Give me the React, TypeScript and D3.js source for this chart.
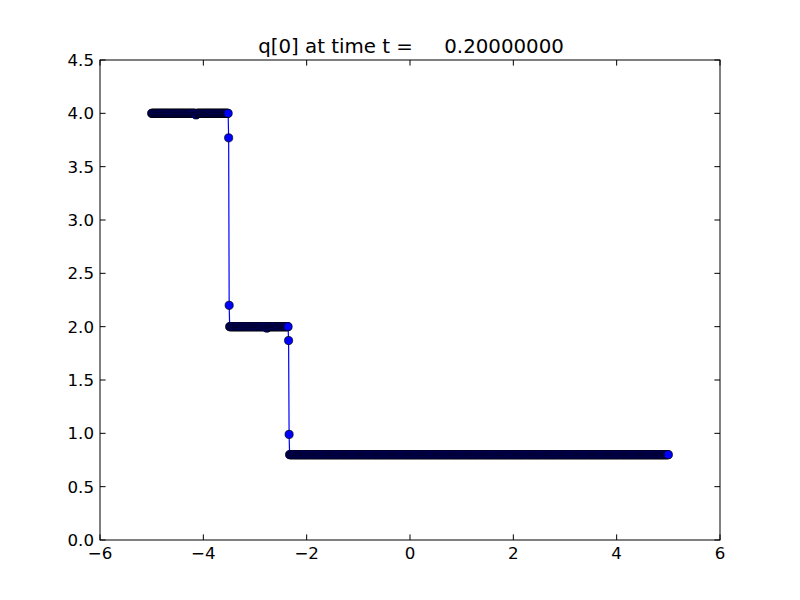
import React from "react";
import * as d3 from "d3";

// Uniform mesh of cell points (finite-volume grid)
const meshStart = -5.0;
const meshStep = 0.01;
const meshCount = 1001;

// Plateaus of q[0]: [xStart, xEnd, level]
const plateauStart = [-5.0, -3.49, -2.33];
const plateauEnd = [-3.52, -2.36, 5.0];
const plateauLevel = [4.0, 2.0, 0.8];

// Individual points that differ from the plateau level
const specialX = [-4.15, -4.14, -4.13, -3.51, -3.5, -2.78, -2.77, -2.76, -2.35, -2.34];
const specialY = [3.99, 3.985, 3.99, 3.77, 2.2, 1.992, 1.986, 1.992, 1.87, 0.99];

const xTicks = [-6, -4, -2, 0, 2, 4, 6];
const yTicks = [0.0, 0.5, 1.0, 1.5, 2.0, 2.5, 3.0, 3.5, 4.0, 4.5];
const titleText = "q[0] at time t =     0.20000000";

function buildPoints(): [number, number][] {
  const pts: [number, number][] = [];
  for (let i = 0; i < meshCount; i++) {
    const x = Math.round((meshStart + i * meshStep) * 100) / 100;
    const si = specialX.findIndex((v) => Math.abs(v - x) < 1e-6);
    if (si >= 0) {
      pts.push([x, specialY[si]]);
      continue;
    }
    for (let k = 0; k < plateauLevel.length; k++) {
      if (x >= plateauStart[k] - 1e-6 && x <= plateauEnd[k] + 1e-6) {
        pts.push([x, plateauLevel[k]]);
        break;
      }
    }
  }
  return pts;
}

export default function App() {
  const W = 800;
  const H = 600;
  const left = 100, right = 720, top = 60, bottom = 540;
  const x = d3.scaleLinear().domain([-6, 6]).range([left, right]);
  const y = d3.scaleLinear().domain([0, 4.5]).range([bottom, top]);
  const pts = buildPoints();
  const line = d3
    .line<[number, number]>()
    .x((d) => x(d[0]))
    .y((d) => y(d[1]));
  const tickLen = 5.6;
  const font = "'DejaVu Sans', sans-serif";
  const fmtX = (v: number) => (v < 0 ? "\u2212" + Math.abs(v) : String(v));
  return (
    <svg
      width={W}
      height={H}
      style={{ position: "fixed", left: 0, top: 0, background: "#fff" }}
    >
      <rect x={0} y={0} width={W} height={H} fill="#fff" />
      <path d={line(pts) || ""} fill="none" stroke="#0000ff" strokeWidth={1.2} />
      {pts.map((d, i) => (
        <circle
          key={i}
          cx={x(d[0])}
          cy={y(d[1])}
          r={4.1}
          fill="#0000ff"
          stroke="#000"
          strokeWidth={0.7}
        />
      ))}
      <rect
        x={left}
        y={top}
        width={right - left}
        height={bottom - top}
        fill="none"
        stroke="#000"
        strokeWidth={1}
      />
      {xTicks.map((t) => (
        <g key={"x" + t}>
          <line x1={x(t)} x2={x(t)} y1={bottom} y2={bottom - tickLen} stroke="#000" strokeWidth={1} />
          <line x1={x(t)} x2={x(t)} y1={top} y2={top + tickLen} stroke="#000" strokeWidth={1} />
          <text
            x={x(t)}
            y={bottom + 18.5}
            textAnchor="middle"
            fontFamily={font}
            fontSize={16.67}
            fill="#000"
          >
            {fmtX(t)}
          </text>
        </g>
      ))}
      {yTicks.map((t) => (
        <g key={"y" + t}>
          <line x1={left} x2={left + tickLen} y1={y(t)} y2={y(t)} stroke="#000" strokeWidth={1} />
          <line x1={right} x2={right - tickLen} y1={y(t)} y2={y(t)} stroke="#000" strokeWidth={1} />
          <text
            x={left - 6}
            y={y(t) + 6}
            textAnchor="end"
            fontFamily={font}
            fontSize={16.67}
            fill="#000"
          >
            {t.toFixed(1)}
          </text>
        </g>
      ))}
      <text
        x={(left + right) / 2 + 1}
        y={53}
        textAnchor="middle"
        fontFamily={font}
        fontSize={19.8}
        fill="#000"
        style={{ whiteSpace: "pre" }}
      >
        {titleText}
      </text>
    </svg>
  );
}
